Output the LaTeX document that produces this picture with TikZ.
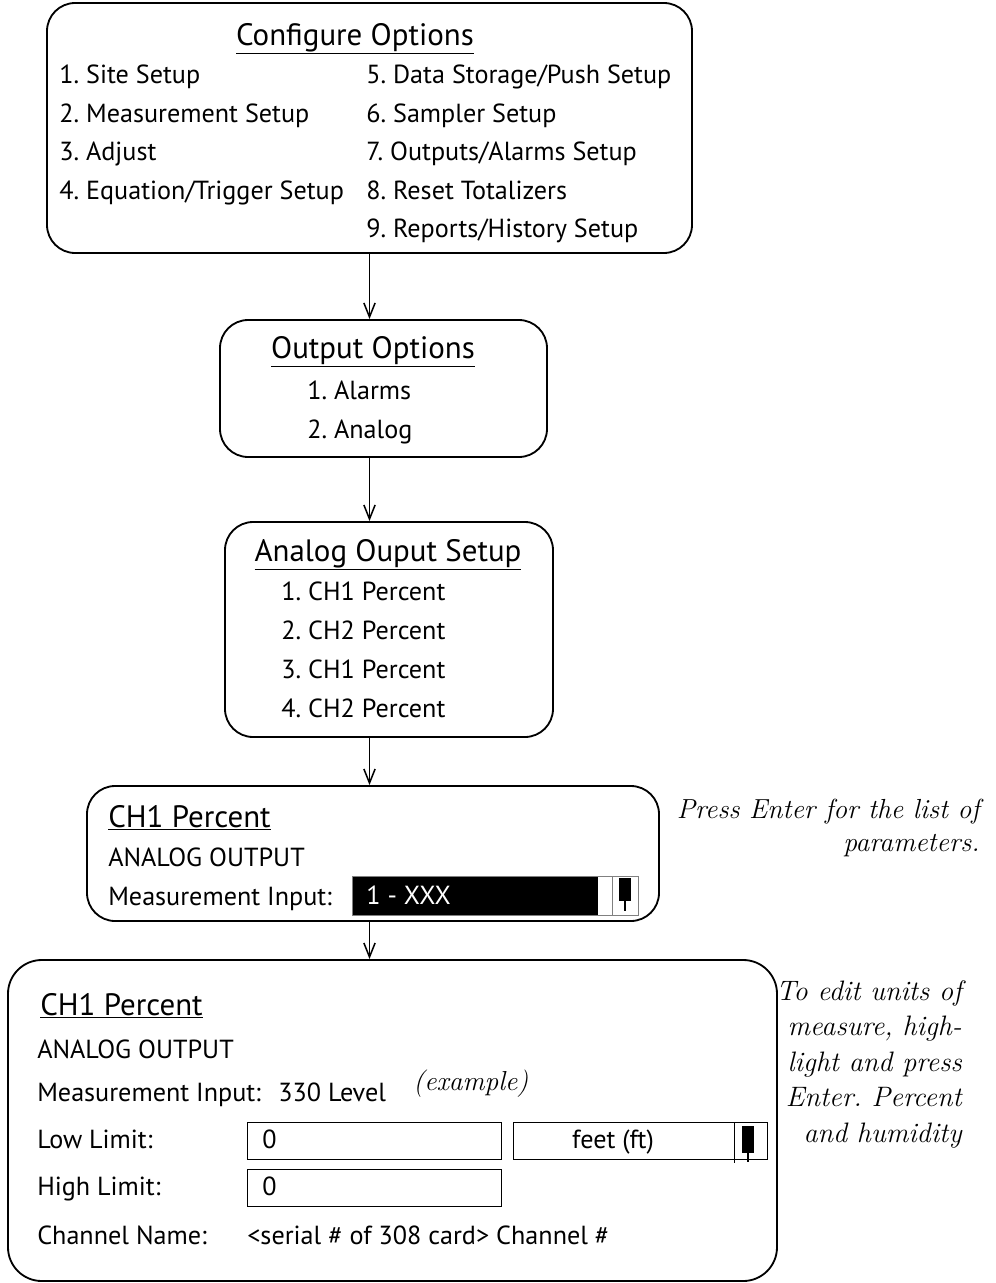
\documentclass[tikz,border=0pt]{standalone}
\usepackage{fontspec}
\newfontfamily\uifont{PT Sans}
\usetikzlibrary{arrows.meta,fit}
\frenchspacing

\tikzset{
  menu/.style={draw,line width=1.3pt,rounded corners=20pt,inner sep=0pt},
  head/.style={font=\uifont\fontsize{22}{26}\selectfont,anchor=base,inner sep=0pt},
  item/.style={font=\uifont\fontsize{18.6}{22}\selectfont,anchor=base west,inner sep=0pt},
  field/.style={draw,line width=.7pt,inner sep=0pt},
  note/.style={font=\itshape\fontsize{19.6}{23.4}\selectfont,align=right,anchor=north east,inner sep=0pt},
  arr/.style={-{Straight Barb[length=10pt,width=8pt]},line width=1.1pt}
}

\begin{document}
\begin{tikzpicture}[x=0.025cm,y=-0.025cm]
  \useasboundingbox (0,0) rectangle (995,1283);

  % configure options
  \node[menu,fit={(47,3) (692,253)}] (config) {};
  \node[head] (confighead) at (355,45) {\underline{Configure Options}};
  \foreach \txt [count=\i] in {1. Site Setup,2. Measurement Setup,3. Adjust,
      4. Equation/Trigger Setup}
    \node[item] (cfgl\i) at (59,45+38.5*\i) {\txt};
  \foreach \txt [count=\i] in {5. Data Storage/Push Setup,6. Sampler Setup,
      7. Outputs/Alarms Setup,8. Reset Totalizers,9. Reports/History Setup}
    \node[item] (cfgr\i) at (366,45+38.5*\i) {\txt};

  % output options
  \node[menu,fit={(220,320) (547,457)}] (outopt) {};
  \node[head] (outhead) at (373,358) {\underline{Output Options}};
  \node[item] (outalarm) at (307,399) {1. Alarms};
  \node[item] (outanalog) at (307,438) {2. Analog};

  % analog output setup
  \node[menu,fit={(225,522) (553,737)}] (anaset) {};
  \node[head] (anahead) at (388,561) {\underline{Analog Ouput Setup}};
  \foreach \txt [count=\i] in {1. CH1 Percent,2. CH2 Percent,3. CH1 Percent,
      4. CH2 Percent}
    \node[item] (ana\i) at (281,561+39*\i) {\txt};

  % CH1 percent, selecting the input
  \node[menu,fit={(87,786) (659,921)}] (ch1sel) {};
  \node[head,anchor=base west] (selhead) at (108,827) {\underline{CH1 Percent}};
  \node[item] (selout) at (108,866) {ANALOG OUTPUT};
  \node[item] (selinput) at (108,905) {Measurement Input:};
  \node[fill=black,inner sep=0pt,fit={(352,876) (598,915)}] (selbar) {};
  \node[item,text=white] (selval) at (366,904) {1 - XXX};
  \node[field,draw=gray,fit={(352,876) (638,915)}] (selframe) {};
  \draw[gray] (612,876) -- (612,915);
  \fill (619,878) rectangle (631,901);
  \draw[line width=1.6pt] (625,901) -- (625,911);

  % CH1 percent, editing
  \node[menu,rounded corners=24pt,fit={(8,960) (777,1281)}] (ch1edit) {};
  \node[head,anchor=base west] (edithead) at (40,1015) {\underline{CH1 Percent}};
  \node[item] (editout) at (37,1058) {ANALOG OUTPUT};
  \node[item] (editinput) at (37,1101) {Measurement Input:};
  \node[item] (editlevel) at (278,1101) {330 Level};
  \node[item,font=\itshape\fontsize{19.5}{22}\selectfont] (editex) at (413,1090) {(example)};
  \node[item] (editlow) at (37,1148) {Low Limit:};
  \node[field,fit={(247,1122) (501,1159)}] (lowbox) {};
  \node[item] (lowval) at (262,1148) {0};
  \node[field,fit={(513,1122) (767,1159)}] (units) {};
  \node[item,anchor=base] (unitsval) at (613,1148) {feet (ft)};
  \draw (734,1122) -- (734,1163);
  \fill (742,1126) rectangle (754,1153);
  \draw[line width=1.6pt] (748,1153) -- (748,1162);
  \node[item] (edithigh) at (37,1195) {High Limit:};
  \node[field,fit={(247,1169) (501,1206)}] (highbox) {};
  \node[item] (highval) at (262,1195) {0};
  \node[item] (editname) at (37,1244) {Channel Name:};
  \node[item] (nameval) at (247,1244) {<serial \# of 308 card> Channel \#};

  % notes
  \node[note] (enternote) at (980,799) {Press Enter for the list of\\parameters.};
  \node[note,font=\itshape\fontsize{20}{25.3}\selectfont] (unitnote) at (962,980)
    {To edit units of\\measure, high-\\light and press\\Enter. Percent\\and humidity};

  \draw[arr] (config.south) -- (config.south |- outopt.north);
  \draw[arr] (config.south |- outopt.south) -- (config.south |- anaset.north);
  \draw[arr] (config.south |- anaset.south) -- (config.south |- ch1sel.north);
  \draw[arr] (config.south |- ch1sel.south) -- (config.south |- ch1edit.north);
\end{tikzpicture}
\end{document}
